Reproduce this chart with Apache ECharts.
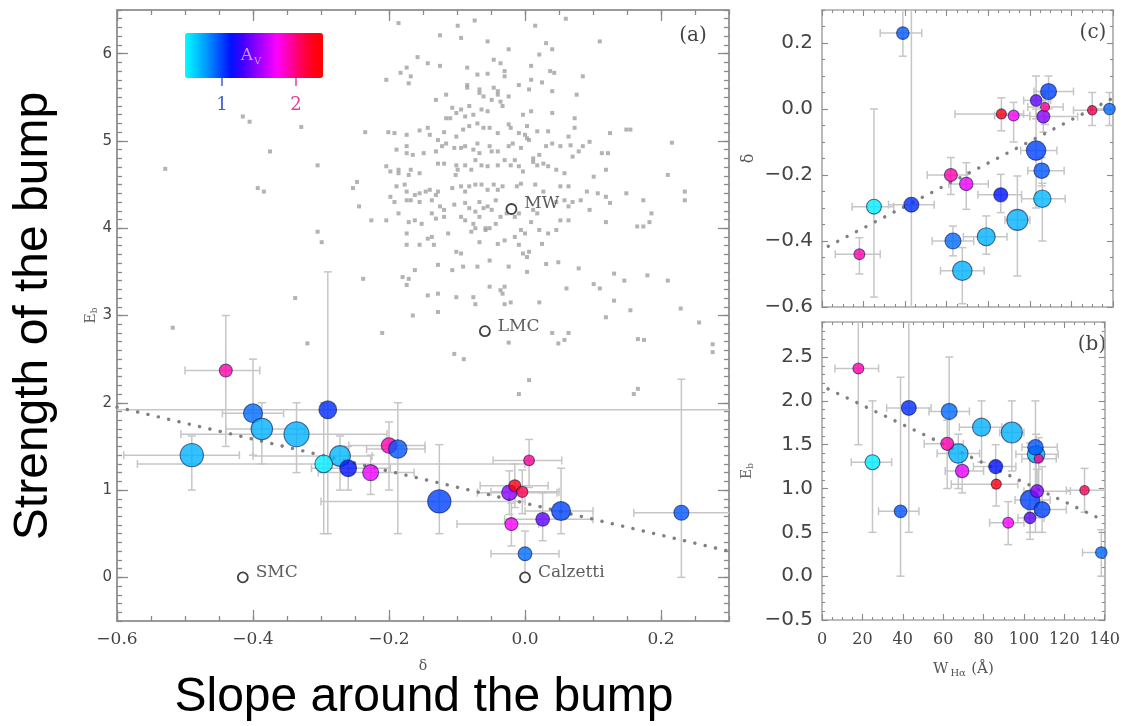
<!DOCTYPE html>
<html><head><meta charset="utf-8">
<script src="https://cdn.jsdelivr.net/npm/echarts@6/dist/echarts.min.js"></script>
<style>html,body{margin:0;padding:0;background:#fff}#c{width:1123px;height:726px}</style>
</head><body><div id="c"></div>
<script>
// ---------------- data ----------------
// galaxies (same order in every panel)
const galDelta = [-0.44,-0.40,-0.387,-0.336,-0.49,-0.29,-0.272,-0.296,-0.26,-0.227,-0.20,-0.187,-0.126,-0.023,-0.015,-0.004,0.006,-0.02,0.026,0.053,0.23,0.0];
const galEb    = [2.37,1.88,1.70,1.64,1.40,1.92,1.39,1.30,1.25,1.20,1.51,1.47,0.87,0.97,1.05,0.98,1.34,0.61,0.665,0.76,0.74,0.27];
const galW     = [18,63,79,94,67.5,43,106,25,86,69.4,62,105.7,103,106.5,86.3,130,107.3,92.2,103,109,38.9,138.3];
const galAv    = [1.9,0.9,0.72,0.72,0.72,1.05,0.7,0.55,1.12,1.7,1.9,0.95,1.0,1.45,2.3,2.1,1.95,1.75,1.35,1.0,0.95,0.9];
const galWeight= [0.52,0.76,0.86,1.0,0.93,0.71,0.83,0.71,0.67,0.64,0.62,0.74,0.93,0.62,0.48,0.45,0.43,0.52,0.55,0.76,0.6,0.55];
// error ranges
const deltaLo = [-0.50,-0.445,-0.44,-0.506,-0.59,-0.75,-0.40,-0.57,-0.314,-0.304,-0.259,-0.233,-0.30,-0.07,-0.066,-0.05,-0.047,-0.10,-0.03,0.0,0.16,-0.05];
const deltaHi = [-0.39,-0.355,-0.324,-0.203,-0.42,0.45,-0.225,0.0,-0.198,-0.163,-0.147,-0.147,0.0,0.047,0.034,0.05,0.054,0.02,0.10,0.10,0.32,0.05];
const ebLo    = [1.5,1.4,1.3,1.2,1.0,0.5,1.0,0.5,1.0,0.95,1.0,0.5,0.5,0.72,0.8,0.73,1.03,0.36,0.42,0.5,0.0,0.0];
const ebHi    = [3.0,2.5,2.0,2.0,1.62,3.5,1.62,2.0,1.5,1.4,1.78,2.0,1.52,1.22,1.3,1.23,1.58,0.85,0.97,1.25,2.27,0.53];
const wLo     = [6.4,53,68,88,57,32,96,14.5,75,61,50.6,99,95.6,100,64,121,99,83,97,102,28,129];
const wHi     = [28,73,89,100,78,54,117,34.5,96,80,70,116.5,113,123,97,140,116,100,110,121,48,143];
// background sample (grey points)
const bgDelta = [-0.186,-0.099,-0.074,0.015,0.060,-0.125,-0.094,-0.055,0.031,0.040,0.110,-0.024,-0.158,-0.046,-0.036,0.021,0.009,-0.143,-0.125,-0.085,-0.183,-0.174,-0.168,-0.204,-0.070,-0.055,-0.030,-0.030,0.037,0.043,0.085,0.009,-0.085,-0.085,-0.171,-0.067,-0.046,-0.040,-0.009,0.006,0.025,0.040,0.076,-0.116,-0.067,-0.061,-0.049,-0.040,-0.036,-0.024,-0.033,-0.131,-0.107,-0.094,-0.082,-0.076,-0.101,-0.116,-0.110,-0.088,-0.064,-0.055,-0.003,0.009,0.040,0.073,0.073,0.003,-0.235,-0.201,-0.192,-0.174,-0.155,-0.143,-0.140,-0.119,-0.128,-0.101,-0.091,-0.082,-0.070,-0.061,-0.052,-0.040,-0.024,-0.021,-0.009,0.000,0.003,0.018,0.034,0.064,0.067,0.085,0.095,0.125,0.149,0.155,0.216,-0.189,-0.174,-0.174,-0.165,-0.149,-0.131,-0.122,-0.116,-0.104,-0.094,-0.088,-0.076,-0.070,-0.067,-0.052,-0.049,-0.040,-0.024,-0.018,-0.006,0.006,0.012,0.021,0.031,0.040,0.052,0.070,0.079,0.113,0.122,-0.204,-0.198,-0.186,-0.186,-0.171,-0.168,-0.155,-0.128,-0.119,-0.102,-0.101,-0.099,-0.088,-0.079,-0.073,-0.064,-0.055,-0.040,-0.030,-0.021,-0.015,-0.009,-0.003,0.012,0.018,0.027,0.034,0.046,0.058,0.101,0.119,0.210,-0.247,-0.253,-0.244,-0.189,-0.177,-0.174,-0.162,-0.155,-0.146,-0.140,-0.131,-0.128,-0.107,-0.094,-0.088,-0.082,-0.073,-0.064,-0.055,-0.046,-0.040,-0.033,-0.012,-0.006,0.015,0.027,0.052,0.064,0.082,0.091,0.107,0.119,0.070,0.064,0.095,0.235,0.235,-0.198,-0.192,-0.174,-0.168,-0.155,-0.137,-0.125,-0.119,-0.104,-0.088,-0.082,-0.073,-0.067,-0.061,-0.055,-0.049,-0.043,-0.009,0.012,0.018,0.046,0.058,0.125,0.149,0.174,0.165,0.174,0.183,0.186,-0.226,-0.204,-0.186,-0.171,-0.162,-0.152,-0.137,-0.131,-0.119,-0.094,-0.088,-0.076,-0.067,-0.058,-0.052,-0.043,-0.036,-0.027,-0.015,-0.006,0.000,0.009,0.021,0.034,0.046,0.052,0.064,0.119,-0.174,-0.174,-0.155,-0.143,-0.134,-0.137,-0.113,-0.079,-0.073,-0.067,-0.058,-0.040,-0.030,-0.015,-0.009,-0.003,0.006,0.025,-0.101,-0.094,0.003,-0.180,-0.171,-0.174,-0.162,-0.128,-0.107,-0.091,-0.070,-0.052,-0.024,0.003,0.031,0.049,0.079,0.101,0.110,0.131,0.146,0.180,0.210,-0.101,-0.052,-0.036,-0.030,-0.033,-0.143,-0.128,-0.128,-0.165,0.061,0.131,0.155,0.229,0.256,0.119,0.021,-0.021,-0.030,-0.073,-0.076,-0.238,-0.529,-0.415,-0.405,-0.375,-0.393,-0.384,-0.329,-0.305,-0.305,-0.299,-0.338,-0.518,-0.320,-0.210,-0.104,-0.090,-0.024,-0.009,0.006,0.040,0.049,0.058,0.064,0.160,0.166,0.166,0.175,0.276,0.276];
const bgEb = [6.35,6.32,6.38,6.32,6.40,6.21,6.18,6.14,6.12,6.05,6.14,6.05,5.96,5.93,5.89,5.99,5.86,5.89,5.86,5.84,5.78,5.84,5.74,5.70,5.76,5.77,5.80,5.74,5.80,5.78,5.74,5.70,5.64,5.61,5.66,5.59,5.61,5.57,5.64,5.59,5.67,5.57,5.53,5.53,5.55,5.51,5.47,5.53,5.45,5.51,5.40,5.47,5.38,5.36,5.40,5.30,5.32,5.26,5.26,5.28,5.36,5.34,5.30,5.34,5.32,5.26,5.15,5.17,5.10,5.10,5.09,5.07,5.12,5.15,5.07,5.10,5.01,5.05,5.13,5.17,5.20,5.15,5.15,5.09,5.19,5.15,5.09,5.07,5.03,5.11,5.11,5.05,4.95,4.94,4.99,5.09,5.13,5.13,4.98,4.90,4.94,4.86,4.84,4.86,4.88,4.94,4.97,4.92,4.92,4.94,4.90,4.97,4.86,4.94,4.88,4.88,4.94,4.97,4.92,5.01,4.80,4.84,4.94,4.97,4.94,4.82,4.88,4.86,4.86,4.71,4.65,4.67,4.63,4.61,4.67,4.63,4.74,4.74,4.61,4.72,4.67,4.72,4.67,4.78,4.72,4.71,4.72,4.78,4.72,4.78,4.71,4.65,4.76,4.72,4.74,4.71,4.67,4.63,4.59,4.67,4.61,4.53,4.46,4.25,4.48,4.50,4.42,4.38,4.40,4.42,4.44,4.38,4.42,4.46,4.48,4.42,4.48,4.50,4.50,4.44,4.50,4.44,4.48,4.48,4.51,4.50,4.42,4.48,4.48,4.32,4.42,4.40,4.36,4.30,4.25,4.21,4.42,4.32,4.36,4.30,4.32,4.32,4.30,4.32,4.25,4.21,4.27,4.29,4.23,4.19,4.30,4.23,4.25,4.21,4.32,4.17,4.21,4.17,4.30,4.32,4.29,4.40,4.32,4.02,4.02,4.07,4.17,4.09,4.09,4.17,4.07,4.09,4.05,4.17,4.11,4.13,4.13,4.09,4.05,4.13,3.98,4.00,4.05,4.13,4.17,4.13,3.98,3.94,4.07,3.98,3.94,3.98,4.09,4.09,4.07,3.94,3.81,3.81,3.88,3.81,3.90,3.94,3.96,4.00,3.84,4.00,3.82,3.86,3.90,3.81,3.71,3.73,3.82,3.73,3.71,3.67,3.44,3.42,3.35,3.52,3.58,3.52,3.56,3.56,3.63,3.56,3.50,3.59,3.61,3.54,3.36,3.31,3.48,3.40,3.46,3.40,3.21,3.33,3.29,3.33,3.25,3.23,3.25,3.04,3.00,3.31,3.17,3.06,3.08,2.92,2.98,3.15,3.15,3.13,3.13,3.21,3.42,4.68,5.28,5.22,4.88,4.46,4.42,5.16,4.72,3.96,3.84,3.20,2.86,2.68,2.80,2.56,2.50,2.69,2.10,2.26,2.80,2.68,2.72,2.80,2.10,2.16,2.73,2.72,2.67,2.58];
// reference extinction curves
const refNames = ['SMC','LMC','MW','Calzetti'];
const refDelta = [-0.415,-0.059,-0.02,0.0];
const refEb    = [0.0,2.82,4.22,0.0];
// fitted relations (end points)
const fitAX = [-0.6,0.3],  fitAY = [1.95,0.30];
const fitCX = [3,140],     fitCY = [-0.416,0.033];
const fitBX = [3,140],     fitBY = [2.137,0.63];
// colour scale
const avMin = 0.5, avMax = 2.36, avTicks = [1,2];
// ticks
const aXMajor = [-0.6,-0.4,-0.2,0.0,0.2];
const aYMajor = [0,1,2,3,4,5,6];
const cYMajor = [-0.6,-0.4,-0.2,0.0,0.2];
const bYMajor = [-0.5,0.0,0.5,1.0,1.5,2.0,2.5];
const wMajor  = [0,20,40,60,80,100,120,140];
function steps(a,b,s){const r=[];for(let v=a;v<=b+1e-9;v+=s)r.push(Math.round(v*1000)/1000);return r;}
const aXMinor = steps(-0.6,0.3,0.05), aYMinor = steps(-0.5,6.5,0.1);
const cYMinor = steps(-0.6,0.3,0.05), bYMinor = steps(-0.5,2.9,0.1), wMinor = steps(0,140,5);

// ---------------- chart ----------------
const chart = echarts.init(document.getElementById('c'), null, {renderer:'canvas'});
const fmt1 = v => (v < -1e-9 ? '\u2212' : '') + Math.abs(v).toFixed(1);
function frameAxes(dim, gi, min, max, majors, minors, o) {
  const pos = dim === 'x' ? ['bottom','top'] : ['left','right'];
  const line = {show:true, onZero:false, lineStyle:{color:o.frame, width:o.frameW}};
  const noLine = {show:false, onZero:false};
  const ts = {color:o.tick, width:o.tickW};
  const base = {type:'value', gridIndex:gi, min:min, max:max, splitLine:{show:false}, silent:true};
  return [
    Object.assign({}, base, {position:pos[0], axisLine:line,
      axisTick:{show:true, inside:true, length:o.major, customValues:majors, lineStyle:ts},
      axisLabel:Object.assign({show:true, customValues:majors}, o.label),
      name:o.name||'', nameLocation:'middle', nameGap:o.nameGap||0, nameMoveOverlap:false, nameTextStyle:o.nameStyle||{}}),
    Object.assign({}, base, {position:pos[0], axisLine:noLine,
      axisTick:{show:true, inside:true, length:o.minor, customValues:minors, lineStyle:ts}, axisLabel:{show:false}}),
    Object.assign({}, base, {position:pos[1], axisLine:line,
      axisTick:{show:true, inside:true, length:o.major, customValues:majors, lineStyle:ts}, axisLabel:{show:false}}),
    Object.assign({}, base, {position:pos[1], axisLine:noLine,
      axisTick:{show:true, inside:true, length:o.minor, customValues:minors, lineStyle:ts}, axisLabel:{show:false}})
  ];
}
const stA = {frame:'#9a9a9a', frameW:2, tick:'#8a8a8a', tickW:1.3, major:11, minor:5};
const stS = {frame:'#a8a8a8', frameW:1.6, tick:'#8a8a8a', tickW:1.1, major:6, minor:3};
const serifLbl = (sz, m) => ({fontFamily:'DejaVu Serif', fontSize:sz, color:'#444', margin:m});
const sansLbl  = (sz, m) => ({fontFamily:'DejaVu Sans', fontSize:sz, color:'#444', margin:m});
const ebName = {rich:{e:{fontFamily:'DejaVu Serif', fontSize:14, color:'#666'}, s:{fontFamily:'DejaVu Serif', fontSize:9, color:'#666', padding:[6,0,0,0]}}};

const xAxes = [].concat(
  frameAxes('x',0,-0.6,0.3,aXMajor,aXMinor,Object.assign({},stA,{label:Object.assign(serifLbl(17,10),{formatter:fmt1}), name:'\u03b4', nameGap:38, nameStyle:{fontFamily:'DejaVu Serif', fontSize:14, color:'#555'}})),
  frameAxes('x',1,0,140,wMajor,wMinor,Object.assign({},stS,{label:{show:false}})),
  frameAxes('x',2,0,140,wMajor,wMinor,Object.assign({},stS,{label:Object.assign(serifLbl(16,12),{formatter:v=>String(v)}),
     name:'{w|W}{s|H\u03b1} {w|(\u00c5)}', nameGap:40, nameStyle:{rich:{w:{fontFamily:'DejaVu Serif', fontSize:15, color:'#555'}, s:{fontFamily:'DejaVu Serif', fontSize:10, color:'#555', padding:[8,2,0,2]}}}}))
);
const yAxes = [].concat(
  frameAxes('y',0,-0.5,6.5,aYMajor,aYMinor,Object.assign({},stA,{label:Object.assign(sansLbl(15,5),{formatter:v=>String(v)}), name:'{e|E}{s|b}', nameGap:18, nameStyle:ebName})),
  frameAxes('y',1,-0.6,0.3,cYMajor,cYMinor,Object.assign({},stS,{label:Object.assign(sansLbl(20,9),{formatter:fmt1}), name:'\u03b4', nameGap:65, nameStyle:{fontFamily:'DejaVu Serif', fontSize:16, color:'#555'}})),
  frameAxes('y',2,-0.5,2.9,bYMajor,bYMinor,Object.assign({},stS,{label:Object.assign(sansLbl(20,9),{formatter:fmt1}), name:'{e|E}{s|b}', nameGap:67, nameStyle:ebName}))
);

function errRender(params, api) {
  const x = api.value(0), y = api.value(1);
  const c = api.coord([x, y]);
  const xl = api.coord([api.value(2), y])[0], xh = api.coord([api.value(3), y])[0];
  const yl = api.coord([x, api.value(4)])[1], yh = api.coord([x, api.value(5)])[1];
  const cap = 4;
  const st = {stroke:'#c6c6c6', lineWidth:1.5, fill:null};
  const L = (x1,y1,x2,y2) => ({type:'line', shape:{x1,y1,x2,y2}, style:st});
  return {type:'group', children:[
    L(xl,c[1],xh,c[1]), L(xl,c[1]-cap,xl,c[1]+cap), L(xh,c[1]-cap,xh,c[1]+cap),
    L(c[0],yl,c[0],yh), L(c[0]-cap,yl,c[0]+cap,yl), L(c[0]-cap,yh,c[0]+cap,yh)
  ]};
}
const idx = galDelta.map((_, i) => i);
const errA = idx.map(i => [galDelta[i], galEb[i], deltaLo[i], deltaHi[i], ebLo[i], ebHi[i]]);
const errC = idx.map(i => [galW[i], galDelta[i], wLo[i], wHi[i], deltaLo[i], deltaHi[i]]);
const errB = idx.map(i => [galW[i], galEb[i], wLo[i], wHi[i], ebLo[i], ebHi[i]]);
const galA = idx.map(i => [galDelta[i], galEb[i], galAv[i], galWeight[i]]);
const galC = idx.map(i => [galW[i], galDelta[i], galAv[i], galWeight[i]]);
const galB = idx.map(i => [galW[i], galEb[i], galAv[i], galWeight[i]]);
const bg = bgDelta.map((d, i) => [d, bgEb[i]]);
const pair = (xs, ys) => xs.map((x, i) => [x, ys[i]]);

const galStyle = {borderColor:'rgba(10,20,70,0.75)', borderWidth:1.1};
const fitStyle = {type:[0.1,10.5], cap:'round', width:3.4, color:'#808080'};
function errSeries(gi, data){return {type:'custom', xAxisIndex:gi*4, yAxisIndex:gi*4, data:data, renderItem:errRender, clip:true, silent:true, z:1, encode:{x:0, y:1}};}
function fitSeries(gi, data){return {type:'line', xAxisIndex:gi*4, yAxisIndex:gi*4, data:data, symbol:'none', lineStyle:fitStyle, silent:true, z:2};}
function galSeries(gi, data, k){return {type:'scatter', xAxisIndex:gi*4, yAxisIndex:gi*4, data:data, symbolSize:v => v[3]*k, itemStyle:galStyle, z:3};}

const option = {
  animation:false,
  backgroundColor:'#fff',
  grid:[
    {left:117, top:10, width:612, height:611},
    {left:822, top:10, width:291, height:297},
    {left:822, top:322, width:291, height:298}
  ],
  xAxis:xAxes, yAxis:yAxes,
  visualMap:{type:'continuous', orient:'horizontal', min:avMin, max:avMax, dimension:2, seriesIndex:[3,7,10],
    left:185, top:33, itemWidth:45, itemHeight:138, calculable:false, padding:0, hoverLink:false,
    inRange:{color:['#00ffff','#00c8ff','#0090ff','#0050ff','#0010ff','#4000ff','#8000ff','#c000ff','#ff00ff','#ff00b0','#ff0060','#ff0020','#ff0000']}},
  series:[
    {type:'scatter', xAxisIndex:0, yAxisIndex:0, data:bg, symbol:'rect', symbolSize:4, itemStyle:{color:'#a0a0a0'}, silent:true, z:1},
    errSeries(0, errA), fitSeries(0, pair(fitAX, fitAY)), galSeries(0, galA, 25),
    {type:'scatter', xAxisIndex:0, yAxisIndex:0, symbol:'circle', symbolSize:10, z:4,
      data:refNames.map((n, i) => ({name:n, value:[refDelta[i], refEb[i]]})),
      itemStyle:{color:'#fff', borderColor:'#111', borderWidth:1.8},
      label:{show:true, position:'right', distance:7, offset:[0,-5], formatter:'{b}', fontFamily:'DejaVu Serif', fontSize:17, color:'#333'}},
    errSeries(1, errC), fitSeries(1, pair(fitCX, fitCY)), galSeries(1, galC, 21),
    errSeries(2, errB), fitSeries(2, pair(fitBX, fitBY)), galSeries(2, galB, 21)
  ],
  graphic:[
    {type:'text', x:34, y:316, rotation:Math.PI/2, style:{text:'Strength of the bump', font:'48px "Liberation Sans", Arial, sans-serif', fill:'#000', align:'center', verticalAlign:'middle'}},
    {type:'text', x:424, y:698, style:{text:'Slope around the bump', font:'48px "Liberation Sans", Arial, sans-serif', fill:'#000', align:'center', verticalAlign:'middle'}},
    {type:'text', x:693, y:36, style:{text:'(a)', font:'20px "DejaVu Serif"', fill:'#444', align:'center', verticalAlign:'middle'}},
    {type:'text', x:1093, y:33, style:{text:'(c)', font:'20px "DejaVu Serif"', fill:'#444', align:'center', verticalAlign:'middle'}},
    {type:'text', x:1092, y:345, style:{text:'(b)', font:'20px "DejaVu Serif"', fill:'#444', align:'center', verticalAlign:'middle'}},
    {type:'text', x:253, y:56, z:100, style:{text:'A', font:'17px "DejaVu Serif"', fill:'#c89cff', align:'right', verticalAlign:'middle'}},
    {type:'text', x:254, y:61, z:100, style:{text:'V', font:'10px "DejaVu Serif"', fill:'#c89cff', align:'left', verticalAlign:'middle'}},
    {type:'line', shape:{x1:222, y1:78, x2:222, y2:86}, style:{stroke:'#3a62d8', lineWidth:1.5}},
    {type:'line', shape:{x1:296, y1:78, x2:296, y2:86}, style:{stroke:'#e0409a', lineWidth:1.5}},
    {type:'text', x:222, y:105, style:{text:String(avTicks[0]), font:'18px "DejaVu Serif"', fill:'#3a62d8', align:'center', verticalAlign:'middle'}},
    {type:'text', x:296, y:105, style:{text:String(avTicks[1]), font:'18px "DejaVu Serif"', fill:'#e0409a', align:'center', verticalAlign:'middle'}}
  ]
};
chart.setOption(option);
</script>
</body></html>
